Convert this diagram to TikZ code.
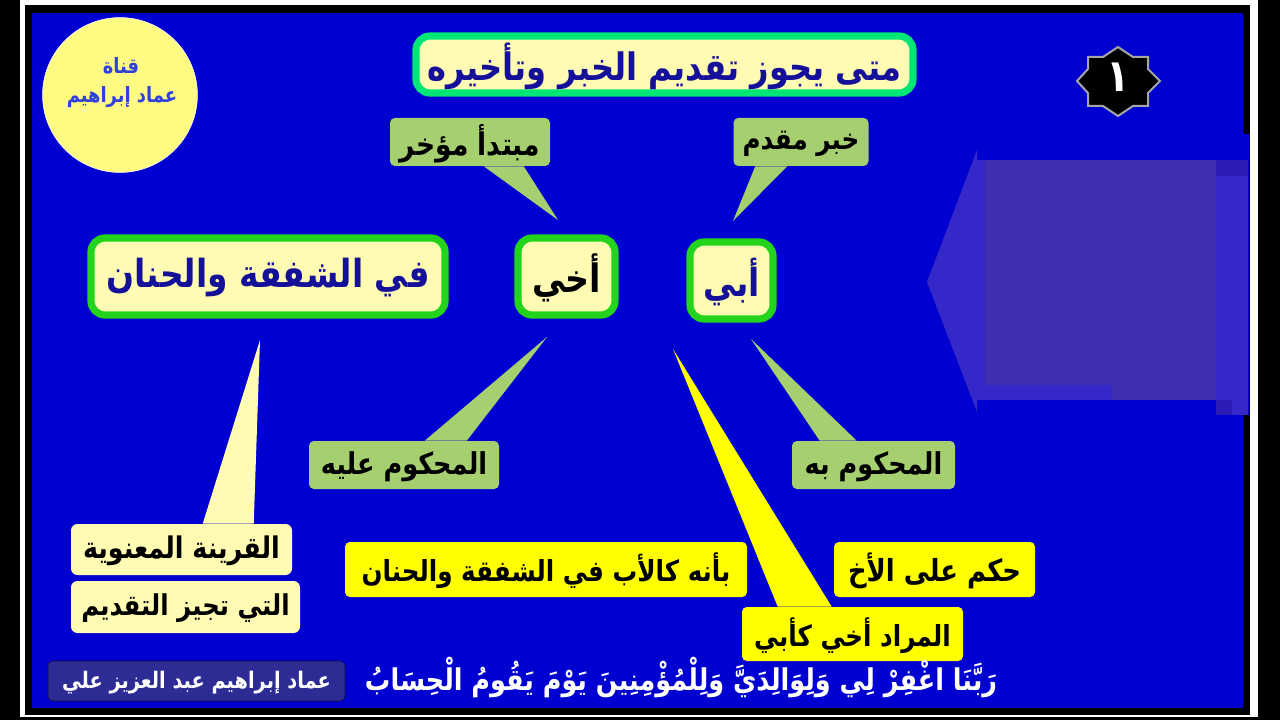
\documentclass[tikz,border=0pt]{standalone}
\usepackage{fontspec}
\usepackage{tikz}
\usetikzlibrary{calc}
\TeXXeTstate=1
\newfontfamily\arabicfont[Script=Arabic,FakeStretch=0.85]{DejaVu Sans}
\newcommand{\artxt}[1]{\raisebox{-1pt}[\height][\depth]{\beginR #1\endR}}
\definecolor{bgblue}{HTML}{0000D0}
\definecolor{pale}{HTML}{FFFBB2}
\definecolor{leaf}{HTML}{A6D070}
\definecolor{lime}{HTML}{24D41C}
\definecolor{mint}{HTML}{00E676}
\definecolor{lemon}{HTML}{FFFF00}
\definecolor{ink}{HTML}{14109A}
\definecolor{panelc}{HTML}{4030B0}
\definecolor{panell}{HTML}{3428C8}
\definecolor{paneld}{HTML}{2A1CB4}
\definecolor{sign}{HTML}{2D2C94}
\definecolor{logoc}{HTML}{FFFA82}
\definecolor{logot}{HTML}{3040E0}
\tikzset{
  sz/.style 2 args={minimum width=#1*0.025cm,minimum height=#2*0.025cm,inner sep=0pt},
  fs/.style={font=\arabicfont\bfseries\fontsize{#1}{#1}\selectfont},
  hd/.style={draw=lime,fill=pale,rounded corners=3.5mm,line width=1.8mm,text=ink},
  lf/.style={fill=leaf,rounded corners=1.2mm,text=black},
  yl/.style={fill=lemon,rounded corners=1.2mm,text=black},
  pl/.style={fill=pale,rounded corners=1.6mm,text=black},
}

\begin{document}
\begin{tikzpicture}[x=0.025cm,y=-0.025cm]
\useasboundingbox (0,0) rectangle (1280,720);
% frame
\fill[black] (0,0) rectangle (1280,720);
\fill[white] (20,0) rectangle (1258,717);
\fill[black] (25,5) rectangle (1250,715);
\fill[bgblue] (32,13) rectangle (1243,708);
\fill[bgblue] (920,134) rectangle (1249,415);
% panel
\fill[panell] (927,282)--(977,150)--(977,160)--(1248,160)--(1248,415)--(1216,415)--(1216,400)--(977,400)--(977,412)--cycle;
\fill[panelc] (985,160) rectangle (1216,385); \fill[panelc] (1112,385) rectangle (1216,400);
\fill[paneld] (1216,160) rectangle (1248,176); \fill[paneld] (1216,400) rectangle (1232,415);
% logo
\node[circle,fill=logoc,draw=white,minimum size=3.87cm,inner sep=0pt] (logo) at (120,95){};
\node[fs=15,text=logot] (qana) at (121,64){\artxt{قناة}};
\node[fs=15,text=logot] (imad) at (122,96){\artxt{عماد إبراهيم}};
% number
\fill[black,draw=gray!70,line width=0.5mm] (1118,47)--(1133,57)--(1148,57)--(1148,69)--(1160,81)--(1148,93)--(1148,106)--(1133,106)--(1118,116)--(1103,106)--(1088,106)--(1088,93)--(1077,81)--(1088,69)--(1088,57)--(1103,57)--cycle;
\node[fs=32,text=white] (num) at (1118,76){\artxt{١}};
% titles
\node[hd,draw=mint,sz={497}{57},fs=26.9] (title) at (664.5,64.5){\artxt{متى يجوز تقديم الخبر وتأخيره}};
\node[hd,sz={354}{77},fs=27.5] (phrase) at (268,276.5){\artxt{في الشفقة والحنان}};
\node[hd,sz={97}{77},fs=27.8,text=black] (akhi) at (566.5,276.5){\artxt{أخي}};
\node[hd,sz={83}{77},fs=27.5] (abi) at (731.5,280.5){\artxt{أبي}};
% callouts
\node[lf,sz={135}{48},fs=20.6] (khabar) at (801,142){\artxt{خبر مقدم}};
\node[lf,sz={160}{48},fs=22.2] (mubt) at (470,142){\artxt{مبتدأ مؤخر}};
\node[lf,sz={190}{48},fs=21.4] (alayh) at (404,465){\artxt{المحكوم عليه}};
\node[lf,sz={163}{48},fs=21.4] (bih) at (873.5,465){\artxt{المحكوم به}};
\node[pl,sz={221}{51},fs=21.2] (qar) at (181.5,549.5){\artxt{القرينة المعنوية}};
\node[pl,sz={229}{52},fs=20.4] (tuj) at (185.5,607){\artxt{التي تجيز التقديم}};
\node[yl,sz={402}{55},fs=20.6] (bian) at (546,569.5){\artxt{بأنه كالأب في الشفقة والحنان}};
\node[yl,sz={201}{55},fs=21.6] (hukm) at (934.5,569.5){\artxt{حكم على الأخ}};
\node[yl,sz={221}{54},fs=20.6] (murad) at (852.5,634){\artxt{المراد أخي كأبي}};
\coordinate (t1) at (733,221); \coordinate (t2) at (558,220); \coordinate (t3) at (547,337);
\coordinate (t4) at (751,339); \coordinate (t5) at (260,340); \coordinate (t6) at (673,349);
\fill[leaf] (t1)--($(khabar.south west)+(22,0)$)--($(khabar.south west)+(54,0)$)--cycle;
\fill[leaf] (t2)--($(mubt.south west)+(94,0)$)--($(mubt.south west)+(134,0)$)--cycle;
\fill[leaf] (t3)--($(alayh.north west)+(116,0)$)--($(alayh.north west)+(158,0)$)--cycle;
\fill[leaf] (t4)--($(bih.north west)+(28,0)$)--($(bih.north west)+(65,0)$)--cycle;
\fill[pale] (t5)--($(qar.north west)+(132,0)$)--($(qar.north west)+(183,0)$)--cycle;
\fill[lemon] (t6)--($(murad.north west)+(36,0)$)--($(murad.north west)+(90,0)$)--cycle;
% bottom strip
\node[fill=sign,draw=black!60!sign,rounded corners=1.2mm,sz={297}{40},fs=16.2,text=white] (sig) at (196.5,681){\artxt{عماد إبراهيم عبد العزيز علي}};
\node[fs=21.3,text=white] (verse) at (681,676){\artxt{رَبَّنَا اغْفِرْ لِي وَلِوَالِدَيَّ وَلِلْمُؤْمِنِينَ يَوْمَ يَقُومُ الْحِسَابُ}};
\end{tikzpicture}
\end{document}
